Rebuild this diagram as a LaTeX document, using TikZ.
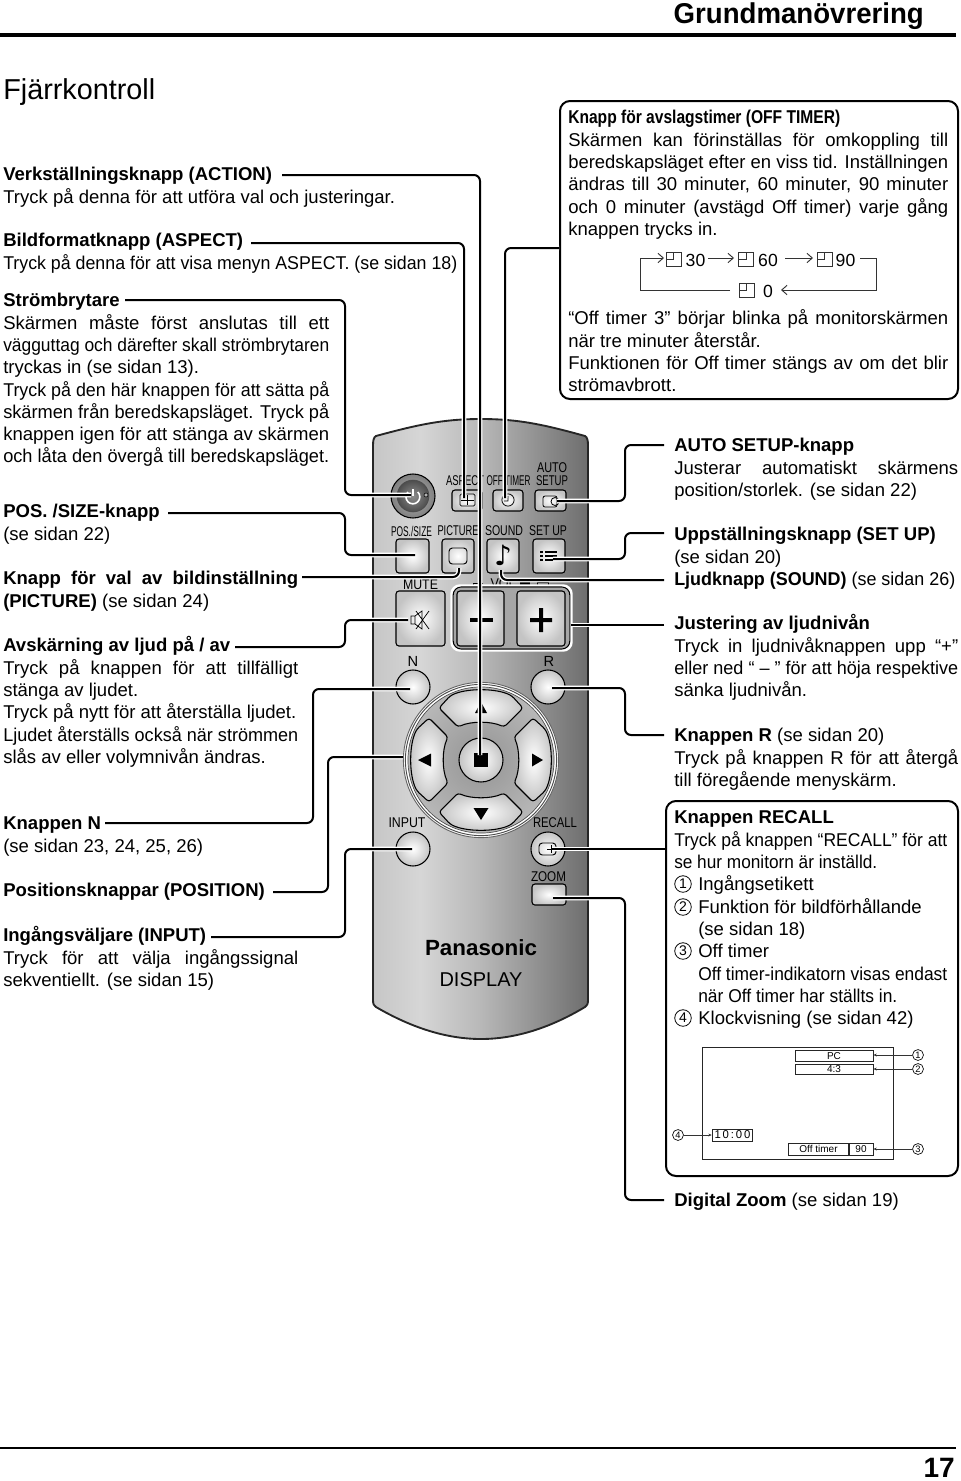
\documentclass[tikz,border=0pt]{standalone}
\usepackage{graphicx}
\usepackage{fontspec}
\setmainfont{Liberation Sans}
\newfontfamily\djf{DejaVu Sans}
\usetikzlibrary{arrows.meta}
\definecolor{rmA}{HTML}{C6C6C6}
\definecolor{rmB}{HTML}{D6D6D6}
\definecolor{rmC}{HTML}{B8B8B8}
\definecolor{rmD}{HTML}{6E6E6E}
\definecolor{btnedge}{HTML}{C4C4C4}
\pgfdeclarehorizontalshading{remoteshade}{100bp}{color(0bp)=(rmA);color(25bp)=(rmA);color(36bp)=(rmB);color(50bp)=(rmC);color(75bp)=(rmD);color(100bp)=(rmD)}
% helpers
\newcommand\fitl[2]{\resizebox{0.75\dimexpr#1pt\relax}{\height}{#2}}
\newcommand\jl[2]{\leavevmode\setbox0\hbox{#2}\ifdim\wd0>0.75\dimexpr#1pt\relax\fitl{#1}{#2}\else\makebox[0.75\dimexpr#1pt\relax][s]{#2}\fi}
\newcommand\hb[1]{{\bfseries #1}}
\newcommand\tb[4]{\node[txtb] (#1) at (#2,#3-9) {\strut #4};}
\newcommand\btnr[5]{\node[btnS,minimum width={(#4-#2)*0.75pt},minimum height={(#5-#3)*0.75pt}] (#1) at ({(#2+#4)/2},{(#3+#5)/2}) {};}
\newcommand\btnc[4]{\node[btnS,circle,minimum size={2*#4*0.75pt}] (#1) at (#2,#3) {};}
\newcommand\rl[4]{\node[rlab,font=\fontsize{#4}{#4}\selectfont] (#1) at (#2) {#3};}
\newcommand\rc[4]{\node[rlab,font=\fontsize{10.6}{11}\selectfont] (#1) at (#2) {\fitl{#4}{#3}};}
\newcommand\cnum[3]{\node[cnumS] (#1) at (#2) {#3};}
\newcommand\scn[3]{\node[scnS] (#1) at (#2) {#3};}
\newcommand\clockico[2]{\draw[flow] (#1-7.5,#2-7) rectangle (#1+7.5,#2+7) (#1-7.5,#2) -- (#1,#2) -- (#1,#2-7);}
\tikzset{
 x=0.75pt,y=-0.75pt,
 txtb/.style={anchor=north west,inner sep=0pt,align=left,font=\fontsize{13.9}{16.72}\selectfont},
 conn/.style={draw=black,line width=1.5pt,rounded corners=4.5pt,preaction={draw=white,line width=3.6pt}},
 btnS/.style={draw=black,line width=0.8pt,shade,inner color=white,outer color=btnedge,rounded corners=2.2pt,inner sep=0pt},
 rlab/.style={inner sep=0pt,text=black},
 cnumS/.style={circle,draw=black,line width=0.6pt,minimum size=12.4pt,inner sep=0pt,font=\fontsize{10.5}{10.5}\selectfont},
 scnS/.style={circle,draw=black,line width=0.5pt,minimum size=8.2pt,inner sep=0pt,font=\fontsize{7}{7}\selectfont},
 flow/.style={draw=black!80,line width=0.7pt},
 arr/.style={flow,-{Straight Barb[length=4pt,width=7pt]}},
 scrbox/.style={draw=black!85,line width=0.7pt,inner sep=0pt,font=\fontsize{7.5}{8}\selectfont},
 scrarr/.style={draw=black!80,line width=0.6pt,-{Stealth[length=2.5pt,width=2.2pt]}},
 frame/.style={draw=black,line width=1.5pt,rounded corners=7.5pt},
 keyS/.style={draw=black,line width=0.8pt,shade,inner color=white,outer color=btnedge,rounded corners=2.2pt},
}
\begin{document}
\begin{tikzpicture}
\useasboundingbox (0,0) rectangle (960,1481);
\fill[white] (0,0) rectangle (960,1481);
% header / footer
\coordinate (hrL) at (0,35); \coordinate (hrR) at (956,35);
\draw[line width=2.3pt] (hrL) -- (hrR);
\node[anchor=base east,inner sep=0pt,font=\fontsize{21.5}{24}\selectfont\bfseries] (hdr) at (924,23) {\fitl{250}{Grundmanövrering}};
\coordinate (frL) at (0,1448); \coordinate (frR) at (956,1448);
\draw[line width=1.6pt] (frL) -- (frR);
\node[anchor=base east,inner sep=0pt,font=\fontsize{21}{24}\selectfont\bfseries] (pgno) at (955,1477) {17};
\node[anchor=west,inner sep=0pt,font=\fontsize{21.6}{24}\selectfont] (ttl) at (3,92) {Fjärrkontroll};
% left text
\tb{tA}{3}{174}{\hb{Verkställningsknapp (ACTION)}\\Tryck på denna för att utföra val och justeringar.}
\tb{tB}{3}{240}{\hb{Bildformatknapp (ASPECT)}\\\jl{454}{Tryck på denna för att visa menyn ASPECT. (se sidan 18)}}
\tb{tC}{3}{300}{\hb{Strömbrytare}\\\jl{326}{Skärmen måste först anslutas till ett}\\\jl{326}{vägguttag och därefter skall strömbrytaren}\\tryckas in (se sidan 13).\\\jl{326}{Tryck på den här knappen för att sätta på}\\\jl{326}{skärmen från beredskapsläget. Tryck på}\\\jl{326}{knappen igen för att stänga av skärmen}\\\jl{326}{och låta den övergå till beredskapsläget.}}
\tb{tD}{3}{511}{\hb{POS. /SIZE-knapp}\\(se sidan 22)}
\tb{tE}{3}{578}{\hb{\jl{295}{Knapp för val av bildinställning}}\\\hb{(PICTURE)} (se sidan 24)}
\tb{tF}{3}{645}{\hb{Avskärning av ljud på / av}\\\jl{295}{Tryck på knappen för att tillfälligt}\\stänga av ljudet.\\\jl{293}{Tryck på nytt för att återställa ljudet.}\\\jl{295}{Ljudet återställs också när strömmen}\\slås av eller volymnivån ändras.}
\tb{tG}{3}{823}{\hb{Knappen N}\\(se sidan 23, 24, 25, 26)}
\tb{tH}{3}{890}{\hb{Positionsknappar (POSITION)}}
\tb{tI}{3}{935}{\hb{Ingångsväljare (INPUT)}\\\jl{295}{Tryck för att välja ingångssignal}\\sekventiellt. (se sidan 15)}
% remote
\path[draw=black!85,line width=1.4pt,shading=remoteshade] (373,445) .. controls (373,440) and (374,437) .. (376,436) .. controls (420,424) and (445,419) .. (481,419) .. controls (517,419) and (542,424) .. (585,436) .. controls (587,437) and (588,440) .. (588,445) -- (588,1000) .. controls (588,1004) and (587,1006) .. (585,1007) .. controls (550,1028) and (515,1039) .. (481,1039) .. controls (447,1039) and (412,1028) .. (376,1007) .. controls (374,1006) and (373,1004) .. (373,1000) -- cycle;
% power button
\node[circle,draw=black,line width=0.8pt,minimum size=33pt,inner sep=0pt,shade,inner color=white!70!black,outer color=black!50] (bPower) at (413,496) {};
\node[circle,draw=black!70,line width=0.4pt,minimum size=24pt,inner sep=0pt,shade,inner color=black!45,outer color=black!70] (bPowerIn) at (413,496) {};
\draw[white,line width=1.2pt] (413,489) -- (413,496);
\draw[white,line width=1.2pt] (408,492) arc[start angle=135,end angle=405,radius=5.2pt];
\node[circle,draw=black,line width=0.4pt,minimum size=3pt,inner sep=0pt,fill=black!30] (led) at (426,495) {};
% row 1
\rc{lAsp}{465,481}{ASPECT}{38}
\rc{lOff}{508.5,481}{OFF TIMER}{44}
\rc{lAuto}{552,468}{AUTO}{30}
\rc{lSetup}{552,481}{SETUP}{32}
\btnr{bAsp}{452}{490}{482}{511}
\btnr{bOff}{493}{490}{523}{511}
\btnr{bAuto}{535}{490}{566}{511}
\draw[line width=0.5pt,rounded corners=1pt] (460,494) rectangle (475,506);
\draw[line width=0.5pt] (461,500) -- (474,500) (467.5,495) -- (467.5,505);
\draw[line width=0.6pt] (508,500) circle[radius=4.6pt] (508,496) -- (508,501) -- (504,501);
\draw[line width=0.6pt,rounded corners=1.5pt] (543,496) rectangle (557,507);
\draw[line width=0.6pt] (555,501.5) circle[radius=3pt];
% row 2
\rc{lPos}{411.5,531}{POS./SIZE}{41}
\rc{lPic}{458,531}{PICTURE}{41}
\rc{lSnd}{504,531}{SOUND}{38}
\rc{lSet}{548,531}{SET UP}{38}
\btnr{bPos}{396}{539}{429}{573}
\btnr{bPic}{442}{539}{474}{573}
\btnr{bSnd}{487}{539}{519}{573}
\btnr{bSet}{533}{539}{565}{573}
\draw[line width=0.7pt,rounded corners=2.5pt] (449,548) rectangle (467,564);
\node[inner sep=0pt,font=\fontsize{21}{21}\djf] (note) at (503,555) {♪};
\foreach \yy in {552,556,560} {\draw[line width=0.8pt] (540,\yy) -- (543,\yy) (545,\yy) -- (557,\yy);}
% mute + vol
\rc{lMute}{420.5,585}{MUTE}{35}
\rc{lVol}{503,584}{VOL}{25}
\draw[line width=0.6pt] (473,586) -- (473,583) -- (483,583);
\fill (520,581) rectangle (530,585);
\draw[line width=0.5pt] (537,582) rectangle (548,586);
\btnr{bMute}{396}{591}{445}{646}
\draw[line width=0.55pt] (411,616) rectangle (415,624) (415,616) -- (422,611) -- (422,629) -- (415,624) (416,611) -- (429,629) (429,611) -- (416,629);
\draw[white,line width=2.6pt,rounded corners=6pt,fill=black!35] (452,586) rectangle (571,650);
\node[draw=black,line width=0.8pt,rounded corners=6pt,minimum width=87.5pt,minimum height=46.5pt,inner sep=0pt] (bVolGrp) at (511.5,618) {};
\btnr{bMinus}{457}{591}{504}{646}
\btnr{bPlus}{517}{591}{565}{646}
\fill (470,618) rectangle (493,622);
\fill (530,618) rectangle (552,622) (539,608) rectangle (543,632);
% N R
\rl{lN}{413,661}{N}{11}
\rl{lR}{549,661}{R}{11}
\btnc{bN}{413}{687}{17}
\btnc{bR}{548}{687}{17}
% nav cluster
\begin{scope}[shift={(481,760)}]
\draw[draw=black!60,line width=0.7pt,fill=white] (0,0) circle[radius=58.2pt];
\draw[draw=black!70,line width=0.7pt,fill=white] (0,0) circle[radius=56.7pt];
\draw[draw=black!70,line width=0.5pt,shade,inner color=black!42,outer color=black!28] (0,0) circle[radius=54.8pt];
\foreach \rr in {0,90,180,270} {
 \path[keyS,rotate=\rr] (-42,-52) -- (-31,-64) .. controls (-15,-72) and (15,-72) .. (31,-64) -- (42,-52) -- (23,-33) .. controls (10,-39) and (-10,-39) .. (-23,-33) -- cycle;
}
\end{scope}
\btnc{bCenter}{481}{760}{22}
\fill (474,753) rectangle (488,767);
\fill (481,702) -- (487,713) -- (475,713) -- cycle;
\fill (418,760) -- (431,753.5) -- (431,766.5) -- cycle;
\fill (543,760) -- (532,753.5) -- (532,766.5) -- cycle;
\fill (481,820) -- (473.5,808) -- (488.5,808) -- cycle;
% lower buttons
\rc{lInput}{407,823}{INPUT}{37}
\rc{lRecall}{555,823}{RECALL}{44}
\rc{lZoom}{548.5,877}{ZOOM}{35}
\btnc{bInput}{413}{849}{17}
\btnc{bRecall}{548}{849}{17}
\draw[line width=0.7pt,rounded corners=2.5pt] (539,843) rectangle (556,855);
\draw[line width=0.5pt] (551,845) -- (551,853) (547,849) -- (555,849);
\btnr{bZoom}{532}{884}{566}{905}
\node[inner sep=0pt,font=\fontsize{16.5}{18}\selectfont\bfseries] (brand) at (481,948) {\fitl{112}{Panasonic}};
\node[inner sep=0pt,font=\fontsize{15}{18}\selectfont] (disp) at (481,980) {DISPLAY};
% Off timer frame
\node[frame,minimum width=298.5pt,minimum height=223.5pt,inner sep=0pt,anchor=north west] (fOff) at (559,100) {};
\tb{tOffA}{568}{117}{\hb{\fitl{272}{Knapp för avslagstimer (OFF TIMER)}}\\\jl{380}{Skärmen kan förinställas för omkoppling till}\\\jl{380}{beredskapsläget efter en viss tid. Inställningen}\\\jl{380}{ändras till 30 minuter, 60 minuter, 90 minuter}\\\jl{380}{och 0 minuter (avstägd Off timer) varje gång}\\knappen trycks in.}
\tb{tOffB}{568}{318}{\jl{380}{“Off timer 3” börjar blinka på monitorskärmen}\\när tre minuter återstår.\\\jl{380}{Funktionen för Off timer stängs av om det blir}\\strömavbrott.}
% flow
\clockico{673.5}{259}
\clockico{746}{259}
\clockico{824.5}{259}
\clockico{746.5}{290}
\node[inner sep=0pt,font=\fontsize{13.2}{14}\selectfont] (n30) at (695.5,260) {30};
\node[inner sep=0pt,font=\fontsize{13.2}{14}\selectfont] (n60) at (768,260) {60};
\node[inner sep=0pt,font=\fontsize{13.2}{14}\selectfont] (n90) at (845.5,260) {90};
\node[inner sep=0pt,font=\fontsize{13.2}{14}\selectfont] (n0) at (768,291) {0};
\coordinate (fl0) at (730,290); \coordinate (flL) at (640,290); \coordinate (flS) at (664,258);
\coordinate (flE) at (860,258); \coordinate (flR) at (876,258); \coordinate (flT) at (781,290);
\draw[arr] (fl0) -- (flL) |- (flS);
\coordinate (a1) at (708,258); \coordinate (a2) at (734,258); \coordinate (a3) at (785,258); \coordinate (a4) at (813,258);
\draw[arr] (a1) -- (a2);
\draw[arr] (a3) -- (a4);
\draw[arr] (flE) -- (flR) |- (flT);
% right column
\tb{tAuto}{674}{445}{\hb{AUTO SETUP-knapp}\\\jl{284}{Justerar automatiskt skärmens}\\position/storlek. (se sidan 22)}
\tb{tSet}{674}{534}{\hb{Uppställningsknapp (SET UP)}\\(se sidan 20)\\\jl{281}{\hb{Ljudknapp (SOUND)} (se sidan 26)}}
\tb{tJust}{674}{623}{\hb{Justering av ljudnivån}\\\jl{284}{Tryck in ljudnivåknappen upp “+”}\\\jl{284}{eller ned “ – ” för att höja respektive}\\sänka ljudnivån.}
\tb{tR}{674}{735}{\hb{Knappen R} (se sidan 20)\\\jl{284}{Tryck på knappen R för att återgå}\\till föregående menyskärm.}
% recall frame
\node[frame,minimum width=219pt,minimum height=281.25pt,inner sep=0pt,anchor=north west] (fRec) at (665,800) {};
\tb{tRecA}{674}{817}{\hb{Knappen RECALL}\\\fitl{273}{Tryck på knappen “RECALL” för att}\\\fitl{203}{se hur monitorn är inställd.}}
\tb{tRec1}{698}{884}{Ingångsetikett\\Funktion för bildförhållande\\(se sidan 18)\\Off timer\\\fitl{249}{Off timer-indikatorn visas endast}\\\fitl{199}{när Off timer har ställts in.}\\Klockvisning (se sidan 42)}
\cnum{c1}{683,884}{1}
\cnum{c2}{683,907}{2}
\cnum{c3}{683,951}{3}
\cnum{c4}{683,1018}{4}
% screen
\node[draw=black!85,line width=0.7pt,minimum width=143.25pt,minimum height=84pt,inner sep=0pt,anchor=north west] (scr) at (702,1047) {};
\node[scrbox,minimum width=58.5pt,minimum height=8pt] (sPC) at (834,1056) {PC};
\node[scrbox,minimum width=58.5pt,minimum height=8pt] (s43) at (834,1069.5) {4:3};
\node[scrbox,minimum width=45.5pt,minimum height=9pt] (sOT) at (818.5,1149) {Off timer};
\node[scrbox,minimum width=18pt,minimum height=9pt] (s90) at (861,1149) {90};
\node[scrbox,minimum width=30.5pt,minimum height=9pt,font=\fontsize{8.5}{9}\selectfont] (sClk) at (732.5,1135) {1\,0\,:\,0\,0};
\scn{k1}{918,1055}{1}
\scn{k2}{918,1069}{2}
\scn{k3}{918,1149}{3}
\scn{k4}{678,1135}{4}
\draw[scrarr] (k1) -- (sPC.east |- k1);
\draw[scrarr] (k2) -- (s43.east |- k2);
\draw[scrarr] (k3) -- (s90.east |- k3);
\draw[scrarr] (k4) -- (sClk.west |- k4);
\tb{tDig}{674}{1200}{\hb{Digital Zoom} (se sidan 19)}
% connector ends
\coordinate (sA) at (282,175); \coordinate (eA) at (481,755); \coordinate (busA) at (480,0);
\coordinate (sB) at (251,243); \coordinate (eB) at (464,498); \coordinate (busB) at (464,0);
\coordinate (sO) at (559,248); \coordinate (eO) at (505,498); \coordinate (busO) at (505,0);
\coordinate (sC) at (125,300); \coordinate (eC) at (411,495); \coordinate (busL) at (345,0);
\coordinate (sD) at (168,513); \coordinate (eD) at (415,555);
\coordinate (sE) at (302,577); \coordinate (eE) at (459,568); \coordinate (busE) at (459,0);
\coordinate (sF) at (235,647); \coordinate (eF) at (408,620);
\coordinate (sG) at (105,823); \coordinate (eG) at (410,689); \coordinate (busG) at (313,0);
\coordinate (sH) at (273,892); \coordinate (eH) at (403,757); \coordinate (busH) at (328,0);
\coordinate (sI) at (211,937); \coordinate (eI) at (412,849);
\coordinate (sAu) at (664,445); \coordinate (eAu) at (557,501); \coordinate (busR) at (625,0);
\coordinate (sSe) at (664,533); \coordinate (eSe) at (553,559);
\coordinate (sSo) at (664,580); \coordinate (eSo) at (501,570); \coordinate (busS) at (501,0);
\coordinate (sJu) at (664,625); \coordinate (eJu) at (571,625);
\coordinate (sRr) at (664,735); \coordinate (eRr) at (552,688);
\coordinate (sDi) at (664,1200); \coordinate (eZo) at (553,898);
\coordinate (eRe) at (552,849);
% connectors
\draw[conn] (sA) -- (busA |- sA) -- (busA |- eA);
\draw[conn] (sB) -- (busB |- sB) -- (busB |- eB);
\draw[conn] (sO) -- (busO |- sO) -- (busO |- eO);
\draw[conn] (sC) -- (busL |- sC) -- (busL |- eC) -- (eC);
\draw[conn] (sD) -- (busL |- sD) -- (busL |- eD) -- (eD);
\draw[conn] (sE) -- (busE |- sE) -- (busE |- eE);
\draw[conn] (sF) -- (busL |- sF) -- (busL |- eF) -- (eF);
\draw[conn] (sG) -- (busG |- sG) -- (busG |- eG) -- (eG);
\draw[conn] (sH) -- (busH |- sH) -- (busH |- eH) -- (eH);
\draw[conn] (sI) -- (busL |- sI) -- (busL |- eI) -- (eI);
\draw[conn] (sAu) -- (busR |- sAu) -- (busR |- eAu) -- (eAu);
\draw[conn] (sSe) -- (busR |- sSe) -- (busR |- eSe) -- (eSe);
\draw[conn] (sSo) -- (busS |- sSo) -- (busS |- eSo);
\draw[conn] (sJu) -- (eJu);
\draw[conn] (sRr) -- (busR |- sRr) -- (busR |- eRr) -- (eRr);
\draw[conn] (fRec.west |- eRe) -- (eRe);
\draw[conn] (sDi) -- (busR |- sDi) -- (busR |- eZo) -- (eZo);
\end{tikzpicture}
\end{document}
